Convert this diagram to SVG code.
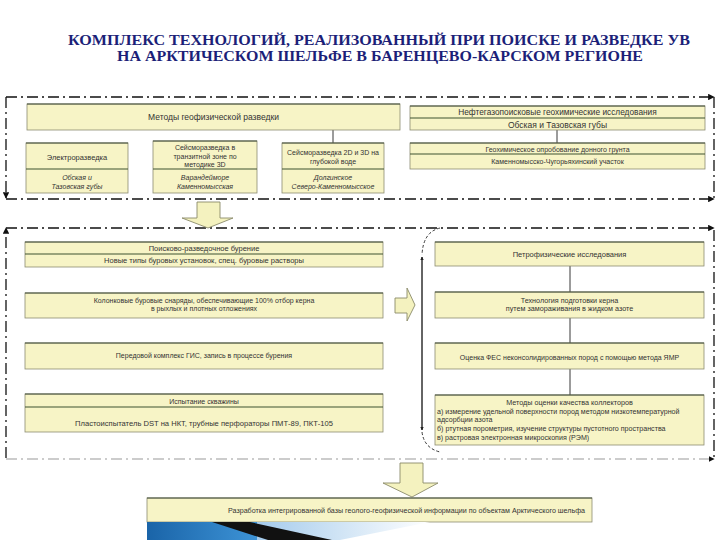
<svg xmlns="http://www.w3.org/2000/svg" width="720" height="540" viewBox="0 0 720 540">
<defs>
<style>
.box{fill:#f7f4c6;stroke:#8c8c72;stroke-width:0.8}
.div{stroke:#3e5230;stroke-width:1.1}
.topb{stroke:#3e4a36;stroke-width:1}
.t{font-family:"Liberation Sans",Arial,sans-serif;fill:#333;text-anchor:middle}
.tl{font-family:"Liberation Sans",Arial,sans-serif;fill:#333}
.it{font-style:italic}
.frame{fill:none;stroke:#111;stroke-width:1.3;stroke-dasharray:11 4 2 4}
.frameg{fill:none;stroke:#999;stroke-width:1.2;stroke-dasharray:11 4 2 4}
.con{stroke:#222;stroke-width:0.9;fill:none}
.blk{fill:#f4f2bf;stroke:#8a8a6a;stroke-width:0.9}
.title{font-family:"Liberation Serif","Times New Roman",serif;font-weight:bold;font-size:14px;fill:#1c1f78;text-anchor:middle}
</style>
<marker id="ah" viewBox="0 0 10 10" refX="9" refY="5" markerWidth="5" markerHeight="5" orient="auto"><path d="M0,0 L10,5 L0,10 Z" fill="#111"/></marker>
<marker id="ahs" viewBox="0 0 10 10" refX="9" refY="5" markerWidth="4" markerHeight="4" orient="auto"><path d="M0,0 L10,5 L0,10 Z" fill="#222"/></marker>
<linearGradient id="gb" x1="0" y1="0" x2="1" y2="0"><stop offset="0" stop-color="#1a64a8"/><stop offset="1" stop-color="#3d93d6"/></linearGradient>
<linearGradient id="gl" x1="0" y1="0" x2="1" y2="0"><stop offset="0" stop-color="#9cc6ea"/><stop offset="1" stop-color="#ffffff"/></linearGradient>
</defs>
<rect width="720" height="540" fill="#fff"/>

<g id="title">
<text class="title" x="379" y="45" textLength="622" lengthAdjust="spacingAndGlyphs">КОМПЛЕКС ТЕХНОЛОГИЙ, РЕАЛИЗОВАННЫЙ ПРИ ПОИСКЕ И РАЗВЕДКЕ УВ</text>
<text class="title" x="380" y="61" textLength="526" lengthAdjust="spacingAndGlyphs">НА АРКТИЧЕСКОМ ШЕЛЬФЕ В БАРЕНЦЕВО-КАРСКОМ РЕГИОНЕ</text>
</g>

<g id="frames">
<path class="frame" d="M6,97 H714" marker-end="url(#ah)"/>
<path class="frame" d="M714,97 V198"/>
<path class="frame" d="M6,97 V198" marker-end="url(#ah)"/>
<path class="frame" d="M6,199 H714" marker-end="url(#ah)"/>
<path class="frame" d="M6,228 H714" marker-end="url(#ah)"/>
<path class="frame" d="M714,230 V457"/>
<path class="frame" d="M6,458 V228" marker-end="url(#ah)"/>
<path class="frameg" d="M6,459 H714" marker-end="url(#ah)"/>
</g>

<g id="connectors">
<line class="con" x1="333" y1="130" x2="333" y2="143"/>
<line class="con" x1="557" y1="130" x2="557" y2="143"/>
<line class="con" x1="570" y1="266" x2="570" y2="292"/>
<line class="con" x1="570" y1="318" x2="570" y2="343"/>
<line class="con" x1="570" y1="369" x2="570" y2="395"/>
<path class="con" d="M440,228 Q423,232 422,255" stroke-dasharray="3 2" stroke="#666"/>
<path class="con" d="M422,430 V257" marker-end="url(#ahs)"/>
<path class="con" d="M422,257 V430" marker-end="url(#ahs)"/>
<path class="con" d="M422,432 Q424,448 440,452" stroke-dasharray="3 2" stroke="#666"/>
<path class="blk" d="M197,202 H220 V218 H233 L208,228 L182,218 H197 Z"/>
<path class="blk" d="M395,298 H407 V288 L415,305 L407,321 V313 H395 Z"/>
<path class="blk" d="M400,463 H423 V483 H438 L412,497 L383,483 H400 Z"/>
</g>

<g id="n-geophys">
<rect class="box" x="27" y="104" width="373" height="26"/>
<line class="topb" x1="27" y1="104" x2="400" y2="104"/>
<text class="t" x="213.5" y="120" font-size="8.5">Методы геофизической разведки</text>
</g>

<g id="n-electro">
<rect class="box" x="26" y="143" width="102" height="50"/>
<line class="topb" x1="26" y1="143" x2="128" y2="143"/>
<line class="div" x1="26" y1="169" x2="128" y2="169"/>
<text class="t" x="77" y="160" font-size="7.5">Электроразведка</text>
<text class="t it" x="77" y="180" font-size="7">Обская и</text>
<text class="t it" x="77" y="189" font-size="7">Тазовская губы</text>
</g>

<g id="n-transit">
<rect class="box" x="153" y="141" width="104" height="52"/>
<line class="topb" x1="153" y1="141" x2="257" y2="141"/>
<line class="div" x1="153" y1="169" x2="257" y2="169"/>
<text class="t" x="205" y="150" font-size="7">Сейсморазведка в</text>
<text class="t" x="205" y="158.5" font-size="7">транзитной зоне по</text>
<text class="t" x="205" y="167" font-size="7">методике 3D</text>
<text class="t it" x="205" y="180" font-size="7">Варандейморе</text>
<text class="t it" x="205" y="189" font-size="7">Каменномысская</text>
</g>

<g id="n-deep">
<rect class="box" x="282" y="143" width="102" height="50"/>
<line class="topb" x1="282" y1="143" x2="384" y2="143"/>
<line class="div" x1="282" y1="169" x2="384" y2="169"/>
<text class="t" x="333" y="155" font-size="7">Сейсморазведка 2D и 3D на</text>
<text class="t" x="333" y="164" font-size="7">глубокой воде</text>
<text class="t it" x="333" y="180" font-size="7">Долгинское</text>
<text class="t it" x="333" y="189" font-size="7">Северо-Каменномысское</text>
</g>

<g id="n-geochem">
<rect class="box" x="410" y="106" width="295" height="24"/>
<line class="topb" x1="410" y1="106" x2="705" y2="106"/>
<line class="div" x1="410" y1="118" x2="705" y2="118"/>
<text class="t" x="557.5" y="115" font-size="8.3">Нефтегазопоисковые геохимические исследования</text>
<text class="t" x="557.5" y="127.5" font-size="8.5">Обская и Тазовская губы</text>
</g>

<g id="n-sampling">
<rect class="box" x="410" y="143" width="295" height="26"/>
<line class="topb" x1="410" y1="143" x2="705" y2="143"/>
<line class="div" x1="410" y1="154" x2="705" y2="154"/>
<text class="t" x="557.5" y="151.5" font-size="7">Геохимическое опробование донного грунта</text>
<text class="t" x="557.5" y="164" font-size="7">Каменномысско-Чугорьяхинский участок</text>
</g>

<g id="n-drilling">
<rect class="box" x="25" y="242" width="358" height="25"/>
<line class="topb" x1="25" y1="242" x2="383" y2="242"/>
<line class="div" x1="25" y1="254" x2="383" y2="254"/>
<text class="t" x="204" y="250.5" font-size="7.5">Поисково-разведочное бурение</text>
<text class="t" x="204" y="263" font-size="7.5">Новые типы буровых установок, спец. буровые растворы</text>
</g>

<g id="n-core">
<rect class="box" x="25" y="293" width="358" height="25"/>
<line class="topb" x1="25" y1="293" x2="383" y2="293"/>
<text class="t" x="204" y="302.5" font-size="7">Колонковые буровые снаряды, обеспечивающие 100% отбор керна</text>
<text class="t" x="204" y="311" font-size="7">в рыхлых и плотных отложениях</text>
</g>

<g id="n-gis">
<rect class="box" x="25" y="343" width="358" height="26"/>
<line class="topb" x1="25" y1="343" x2="383" y2="343"/>
<text class="t" x="204" y="358" font-size="7">Передовой комплекс ГИС, запись в процессе бурения</text>
</g>

<g id="n-testing">
<rect class="box" x="25" y="394" width="358" height="38"/>
<line class="topb" x1="25" y1="394" x2="383" y2="394"/>
<line class="div" x1="25" y1="407" x2="383" y2="407"/>
<text class="t" x="204" y="403.5" font-size="7">Испытание скважины</text>
<text class="t" x="204" y="425.5" font-size="7.6">Пластоиспытатель DST на НКТ, трубные перфораторы ПМТ-89, ПКТ-105</text>
</g>

<g id="n-petro">
<rect class="box" x="435" y="242" width="269" height="24"/>
<line class="topb" x1="435" y1="242" x2="704" y2="242"/>
<text class="t" x="569.5" y="256.5" font-size="7.5">Петрофизические исследования</text>
</g>

<g id="n-prep">
<rect class="box" x="435" y="292" width="269" height="26"/>
<line class="topb" x1="435" y1="292" x2="704" y2="292"/>
<text class="t" x="569.5" y="303" font-size="7.2">Технология подготовки керна</text>
<text class="t" x="569.5" y="311" font-size="7.2">путем замораживания в жидком азоте</text>
</g>

<g id="n-nmr">
<rect class="box" x="435" y="343" width="269" height="26"/>
<line class="topb" x1="435" y1="343" x2="704" y2="343"/>
<text class="t" x="569.5" y="360" font-size="7">Оценка ФЕС неконсолидированных пород с помощью метода ЯМР</text>
</g>

<g id="n-quality">
<rect class="box" x="435" y="395" width="269" height="50"/>
<line class="topb" x1="435" y1="395" x2="704" y2="395"/>
<text class="t" x="569.5" y="404.5" font-size="7.2">Методы оценки качества коллекторов</text>
<text class="tl" x="437" y="413.5" font-size="7.1">а) измерение удельной поверхности пород методом низкотемпературной</text>
<text class="tl" x="437" y="421.5" font-size="7.1">адсорбции азота</text>
<text class="tl" x="437" y="431" font-size="7.1">б) ртутная порометрия, изучение структуры пустотного пространства</text>
<text class="tl" x="437" y="439.5" font-size="7.1">в) растровая электронная микроскопия (РЭМ)</text>
</g>

<g id="n-database">
<rect class="box" x="147" y="498" width="445" height="24"/>
<line class="topb" x1="147" y1="498" x2="592" y2="498"/>
<text class="tl" x="228" y="512.5" font-size="7" textLength="357" lengthAdjust="spacingAndGlyphs">Разработка интегрированной базы геолого-геофизической информации по объектам Арктического шельфа</text>
</g>

<g id="decoration">
<polygon points="240,522 430,522 340,540 240,540" fill="url(#gl)"/>
<rect x="147" y="522" width="110" height="18" fill="url(#gb)"/>
<polygon points="212,522 250,522 332,540 268,540" fill="#111"/>
</g>
</svg>
